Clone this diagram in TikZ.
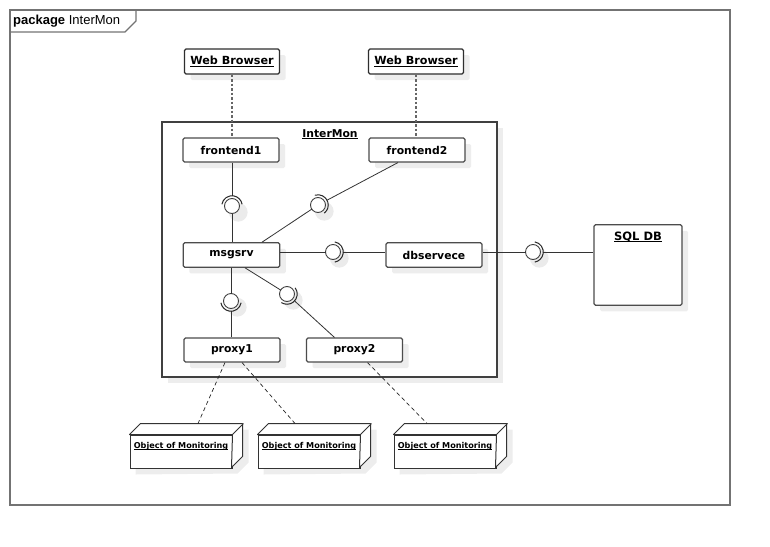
\documentclass[tikz,border=0pt]{standalone}
\usepackage{fontspec}
\setmainfont{DejaVu Sans}
\newfontfamily\tabfont{Liberation Sans}
\usetikzlibrary{shadows}
\pgfdeclarelayer{bg}
\pgfsetlayers{bg,main}

% underlined label text
\newcommand\ulin[1]{\setbox0\hbox{#1}\rlap{\rule[-0.17em]{\wd0}{0.08em}}\box0}

% white side and top faces of a 3D node, drawn around its front face
\newcommand\nodefaces[1]{%
  \begin{pgfonlayer}{bg}
    \fill[black!7] ([shift={(6,6)}]#1.south west) -- ([shift={(6,6)}]#1.north west)
      -- ++(11,-11) -- ++(102,0) -- ++(0,33) -- ++(-11,11) -- cycle;
  \end{pgfonlayer}
  \filldraw[fill=white, draw=black!80, line width=1pt, line join=round]
    (#1.north west) -- ++(11,-11) -- ++(102,0) -- ++(0,33) -- ++(-11,11)
    -- (#1.north east) -- cycle;
  \draw[black!80, line width=1pt] (#1.north east) -- ++(11,-11);
}

\begin{document}
\begin{tikzpicture}[x=1pt, y=-1pt,
  every node/.style={inner sep=0pt},
  compbox/.style={draw=black!70, line width=1.1pt, fill=white, rounded corners=1.5pt,
    general shadow={fill=black!7, shadow xshift=6pt, shadow yshift=-6pt},
    font=\bfseries\fontsize{10.8}{12}\selectfont,
    minimum width=96pt, minimum height=24pt},
  webbox/.style={compbox, draw=black!82, line width=1.4pt,
    minimum width=95pt, minimum height=25pt, font=\bfseries\fontsize{11.2}{13}\selectfont},
  framebox/.style={draw=black!75, line width=1.3pt, fill=white,
    general shadow={fill=black!7, shadow xshift=6pt, shadow yshift=-6pt}},
  ballnode/.style={circle, draw=black!75, line width=0.9pt, fill=white,
    minimum size=15pt, inner sep=0pt, outer sep=0pt,
    general shadow={fill=black!8, shadow xshift=5pt, shadow yshift=-5pt, shadow scale=1.25}},
  socknode/.style={circle, minimum size=20.5pt, inner sep=0pt, outer sep=0pt},
  link/.style={draw=black!80, line width=0.8pt},
  sockarc/.style={draw=black!85, line width=1pt},
  webdot/.style={draw=black!60, line width=1.5pt, dash pattern=on 2.5pt off 2pt},
  depline/.style={draw=black!85, line width=0.7pt, dash pattern=on 4pt off 3pt},
  objface/.style={draw=black!80, line width=1pt, fill=white,
    minimum width=102pt, minimum height=33pt},
  objtext/.style={font=\bfseries\fontsize{8.1}{10}\selectfont}
]
\useasboundingbox (0,0) rectangle (770,546);

% package frame with its name tab
\draw[black!55, line width=1.3pt] (10,10) rectangle (730,505);
\draw[black!55, line width=1.3pt] (10,32) -- (125,32) -- (136,21) -- (136,10);
\node[anchor=west, font=\tabfont\fontsize{13}{15}\selectfont] (pkglabel) at (13,21)
  {\textbf{package} InterMon};

% InterMon component
\node[framebox, minimum width=335pt, minimum height=255pt] (intermon) at (329.5,249.5) {};
\node[font=\bfseries\fontsize{10.8}{12}\selectfont] (intermontitle) at (330,134) {\ulin{InterMon}};

% browsers
\node[webbox] (wb1) at (232,61.5) {\ulin{Web Browser}};
\node[webbox] (wb2) at (416,61.5) {\ulin{Web Browser}};

% inner components
\node[compbox] (fe1) at (231,150) {frontend1};
\node[compbox] (fe2) at (417,150) {frontend2};
\node[compbox, minimum width=96.5pt, minimum height=24.5pt] (msgsrv) at (231.5,255) {msgsrv};
\node[compbox, minimum height=24.5pt] (dbs) at (434,255) {dbservece};
\node[compbox] (proxy1) at (232,350) {proxy1};
\node[compbox] (proxy2) at (354.5,350) {proxy2};

% database
\node[compbox, minimum width=88pt, minimum height=80.5pt] (sqldb) at (638,265) {};
\node[font=\bfseries\fontsize{11.5}{13}\selectfont] (sqltitle) at (638,237) {\ulin{SQL DB}};

% provided interfaces (balls) and their sockets
\node[ballnode] (b1) at (232,206) {};  \node[socknode] (s1) at (232,206) {};
\node[ballnode] (b2) at (318,205) {};  \node[socknode] (s2) at (318,205) {};
\node[ballnode] (b3) at (333,252) {};  \node[socknode] (s3) at (333,252) {};
\node[ballnode] (b4) at (533,252) {};  \node[socknode] (s4) at (533,252) {};
\node[ballnode] (b5) at (231,301) {};  \node[socknode] (s5) at (231,301) {};
\node[ballnode] (b6) at (287,294) {};  \node[socknode] (s6) at (287,294) {};

% assembly connectors
\draw[link] (fe1.south -| s1) -- (s1);
\draw[link] (msgsrv.north -| b1) -- (b1);
\draw[link] ([xshift=-19pt]fe2.south) -- (s2);
\draw[link] ([xshift=30.5pt]msgsrv.north) -- (b2);
\draw[link] (msgsrv.east |- b3) -- (b3);
\draw[link] (s3) -- (dbs.west |- s3);
\draw[link] (dbs.east |- b4) -- (b4);
\draw[link] (s4) -- (sqldb.west |- s4);
\draw[link] (msgsrv.south -| b5) -- (b5);
\draw[link] (s5) -- (proxy1.north -| s5);
\draw[link] ([xshift=13.5pt]msgsrv.south) -- (b6);
\draw[link] (s6) -- ([xshift=-20pt]proxy2.north);

% socket arcs
\draw[sockarc] (s1.170) arc[start angle=170, end angle=10, radius=10.25pt];
\draw[sockarc] (s2.108) arc[start angle=108, end angle=-52, radius=10.25pt];
\draw[sockarc] (s3.80) arc[start angle=80, end angle=-80, radius=10.25pt];
\draw[sockarc] (s4.80) arc[start angle=80, end angle=-80, radius=10.25pt];
\draw[sockarc] (s5.-10) arc[start angle=-10, end angle=-170, radius=10.25pt];
\draw[sockarc] (s6.37) arc[start angle=37, end angle=-123, radius=10.25pt];

% browser links
\draw[webdot] (wb1.south) -- (wb1.south |- fe1.north);
\draw[webdot] (wb2.south) -- (wb2.south |- fe2.north);

% monitored objects
\node[objface] (obj1) at (181,451.5) {};
\node[objface] (obj2) at (309,451.5) {};
\node[objface] (obj3) at (445,451.5) {};
\nodefaces{obj1}
\nodefaces{obj2}
\nodefaces{obj3}
\node[objtext] (obj1lbl) at ([yshift=-12pt]obj1.north) {\ulin{Object of Monitoring}};
\node[objtext] (obj2lbl) at ([yshift=-12pt]obj2.north) {\ulin{Object of Monitoring}};
\node[objtext] (obj3lbl) at ([yshift=-12pt]obj3.north) {\ulin{Object of Monitoring}};

% proxy to object links
\draw[depline] ([xshift=-7pt]proxy1.south) -- ([xshift=17pt,yshift=11pt]obj1.north);
\draw[depline] ([xshift=10pt]proxy1.south) -- ([xshift=-14pt,yshift=11pt]obj2.north);
\draw[depline] ([xshift=13pt]proxy2.south) -- ([xshift=-18pt,yshift=11pt]obj3.north);
\end{tikzpicture}
\end{document}
